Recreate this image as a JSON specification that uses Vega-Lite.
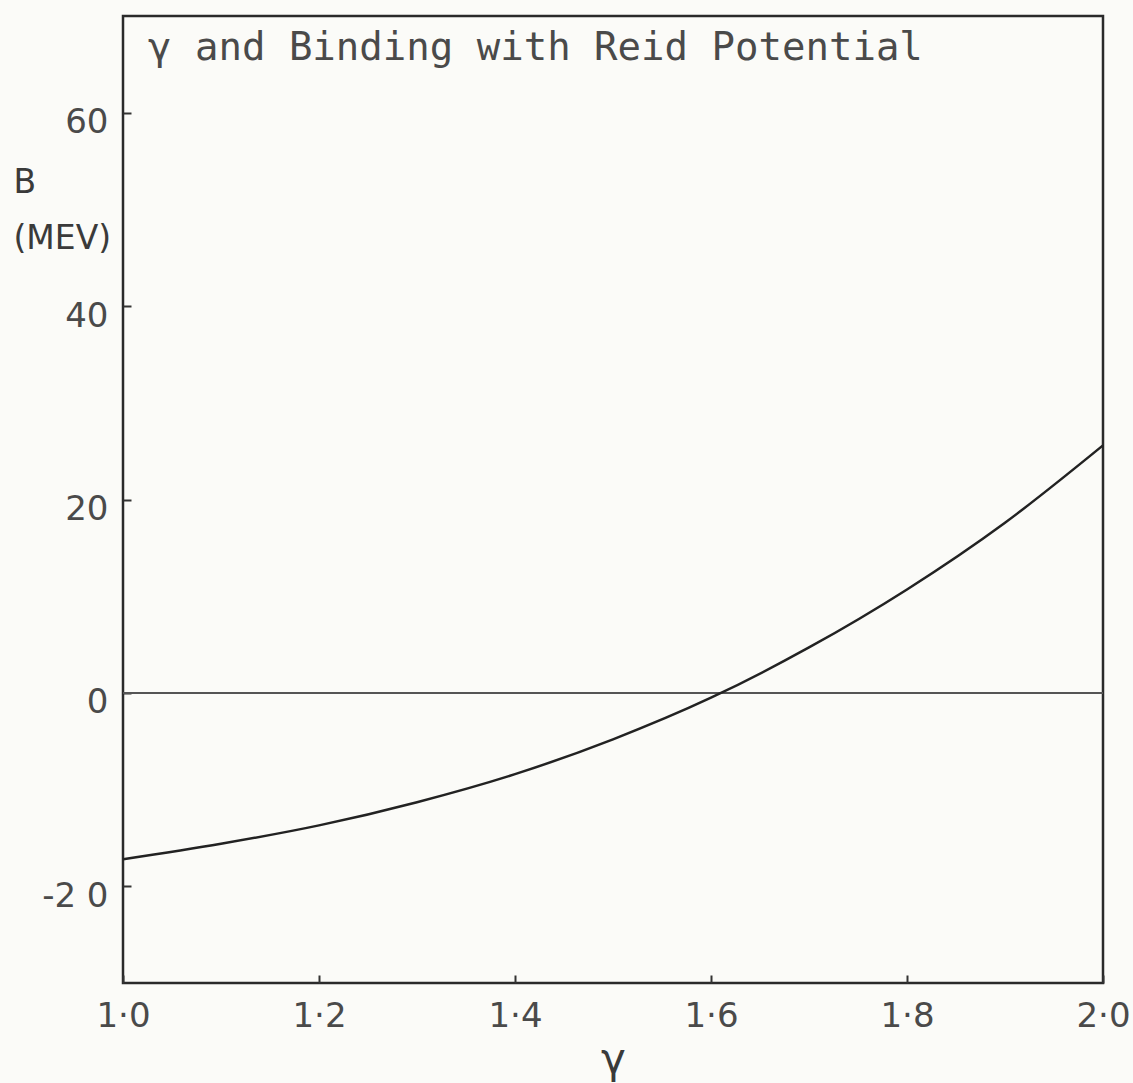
{
  "$schema": "https://vega.github.io/schema/vega-lite/v6.json",
  "autosize": "none",
  "width": 980,
  "height": 967,
  "padding": {"left": 123, "top": 16, "right": 30, "bottom": 100},
  "background": "#fbfbf8",
  "config": {
    "view": {"stroke": "#2a2a2a", "strokeWidth": 2.5},
    "font": "DejaVu Sans",
    "axis": {"labelColor": "#4a4a4a", "titleColor": "#3a3a3a", "labelFontWeight": "normal", "titleFontWeight": "normal", "tickColor": "#333", "tickWidth": 2, "grid": false, "domain": false}
  },
  "title": {
    "text": "γ and Binding with Reid Potential",
    "frame": "group",
    "anchor": "start",
    "orient": "top",
    "offset": -52,
    "dx": 25,
    "font": "DejaVu Sans Mono",
    "fontSize": 39,
    "fontWeight": "normal",
    "color": "#4a4a4a"
  },
  "data": {
    "values": [
      {"g": 1.0, "B": -17.2},
      {"g": 1.1, "B": -15.6},
      {"g": 1.2, "B": -13.7},
      {"g": 1.3, "B": -11.3},
      {"g": 1.4, "B": -8.4},
      {"g": 1.5, "B": -4.8},
      {"g": 1.6, "B": -0.5},
      {"g": 1.7, "B": 4.7},
      {"g": 1.8, "B": 10.7},
      {"g": 1.9, "B": 17.6},
      {"g": 2.0, "B": 25.6}
    ]
  },
  "layer": [
    {
      "mark": {"type": "rule", "color": "#555", "strokeWidth": 2},
      "encoding": {"y": {"datum": 0, "type": "quantitative"}}
    },
    {
      "mark": {"type": "line", "color": "#222", "strokeWidth": 2.5, "interpolate": "monotone"},
      "encoding": {
        "x": {
          "field": "g", "type": "quantitative",
          "scale": {"domain": [1, 2], "nice": false, "zero": false},
          "axis": {
            "values": [1, 1.2, 1.4, 1.6, 1.8, 2],
            "labelExpr": "replace(format(datum.value, '.1f'), '.', '·')",
            "tickSize": -8,
            "labelPadding": 24,
            "labelFontSize": 34,
            "title": "γ",
            "titleFontSize": 42,
            "titlePadding": 6,
            "labelFlush": false
          }
        },
        "y": {
          "field": "B", "type": "quantitative",
          "scale": {"domain": [-30, 70], "nice": false, "zero": false},
          "axis": {
            "values": [-20, 0, 20, 40, 60],
            "labelExpr": "datum.value == -20 ? '-2 0' : format(datum.value, 'd')",
            "tickSize": -8,
            "labelPadding": 23,
            "labelFontSize": 34,
            "labelBaseline": "top",
            "labelOffset": -7,
            "title": ["B", "(MEV)"],
            "titleAngle": 0,
            "titleAlign": "left",
            "titleBaseline": "top",
            "titleX": -110,
            "titleY": 150,
            "titleFontSize": 33,
            "titleLineHeight": 56,
            "labelFlush": false
          }
        }
      }
    }
  ]
}
